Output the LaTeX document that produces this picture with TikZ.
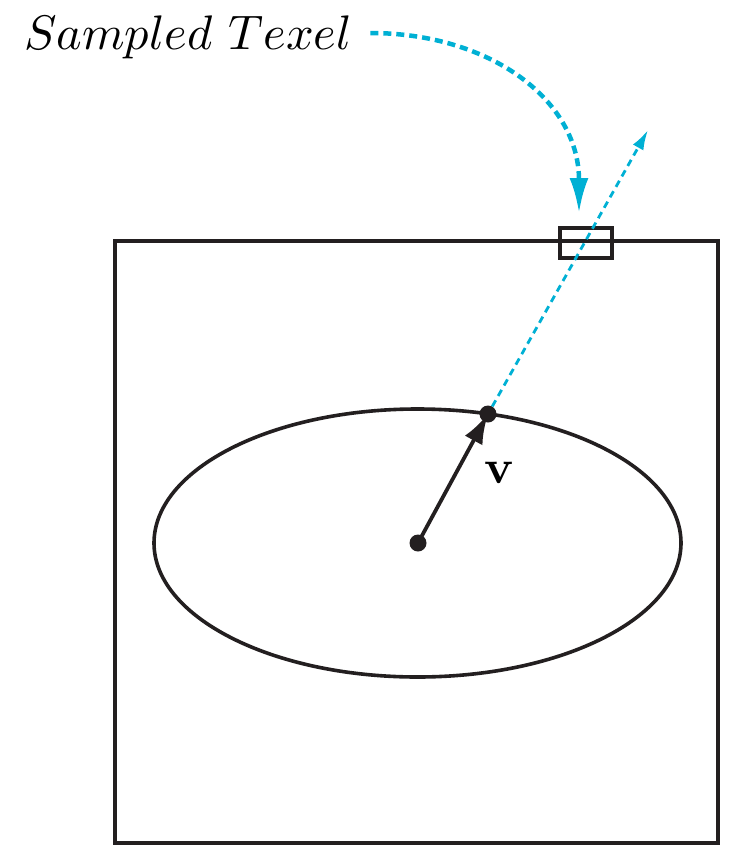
\documentclass[tikz,border=0pt]{standalone}
\usepackage{graphicx}
\usepackage{tikz}
\usetikzlibrary{arrows.meta}
\definecolor{ink}{RGB}{35,31,32}
\definecolor{texcyan}{RGB}{0,176,212}

\begin{document}
\begin{tikzpicture}[x=1pt,y=-1pt,
 dot/.style={circle,fill=ink,inner sep=0pt,minimum size=17pt},
 frame/.style={draw=ink,line width=3.6pt,inner sep=0pt},
 ray/.style={texcyan,line width=2.8pt,dash pattern=on 7pt off 5pt,-{Latex[length=20pt,width=12pt]}}]
 \useasboundingbox (0,0) rectangle (737,847);
 \node[frame,minimum width=603pt,minimum height=602pt](img) at (416.5,542){};
 \node[frame,minimum width=52pt,minimum height=30pt](texel) at (586,243){};
 \coordinate (c0) at (417.5,543);
 \draw[ink,line width=3.6pt](c0) ellipse[x radius=263.5,y radius=134];
 \node[dot](c) at (418,543){};
 \node[dot](p) at (488,414){};
 \draw[ink,line width=3.8pt,-{Latex[length=30pt,width=20pt]}](c.center)--(p.center);
 \node(vlbl) at (499,473){\scalebox{4.8}{$\mathbf{v}$}};
 \coordinate (out) at (648,130);
 \draw[ray](p)--(out);
 \node[anchor=west,inner sep=0pt](lbl) at (24,37){\scalebox{4.85}{$Sampled\ Texel$}};
 \coordinate (aim) at (579,213);
 \draw[texcyan,line width=4.5pt,dash pattern=on 8pt off 5pt,-{Latex[length=35pt,width=19pt]}]
  ([xshift=18pt,yshift=4pt]lbl.east) .. controls (490,33) and (579,100) .. (aim);
\end{tikzpicture}
\end{document}
